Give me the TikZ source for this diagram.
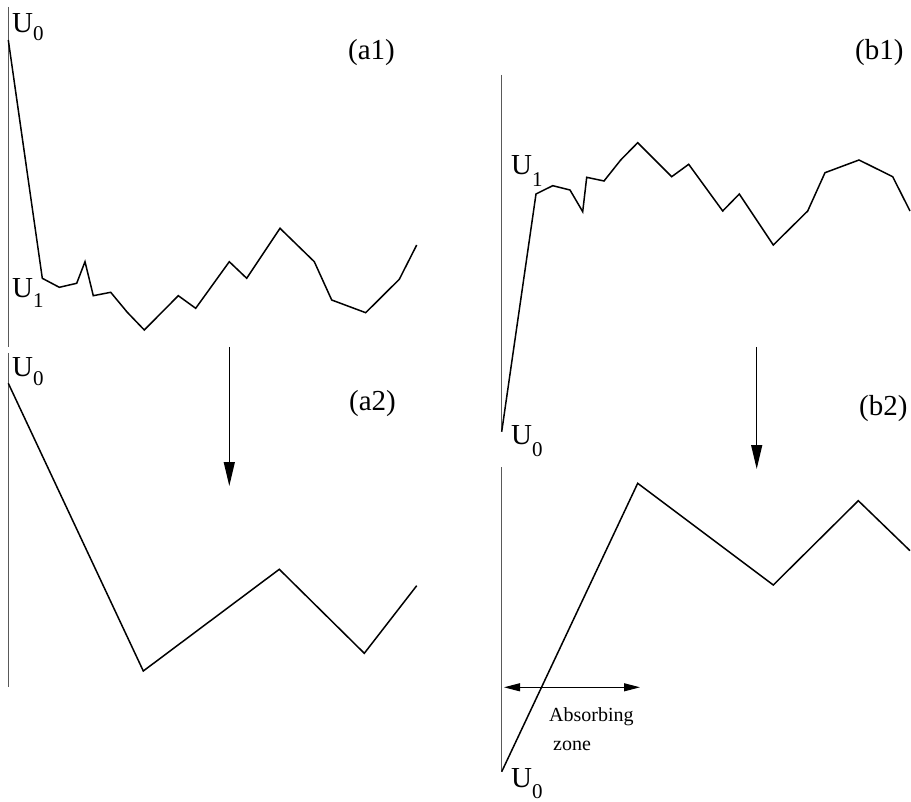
\documentclass[tikz,border=0pt]{standalone}
\usepackage{fontspec}
\setmainfont{Liberation Serif}
\usetikzlibrary{arrows.meta,positioning}
\newcommand{\Ulab}[2]{U\raisebox{-#2pt}{\fontsize{21}{21}\selectfont #1}}

\begin{document}
\begin{tikzpicture}[x=1pt,y=-1pt,line cap=butt,
  axis/.style={black!65,line width=1pt},
  trace/.style={black,line width=1.5pt,line join=miter},
  flow/.style={black,line width=1.3pt,-{Triangle[length=24pt,width=11pt]}},
  zone/.style={black,line width=1pt,{Triangle[length=16pt,width=8pt]}-{Triangle[length=16pt,width=8pt]}},
  lbl/.style={font=\fontsize{29}{33}\selectfont,inner sep=0pt,anchor=base west},
  small/.style={font=\fontsize{20}{24}\selectfont,inner sep=0pt,anchor=base west}]
  \useasboundingbox (0,0) rectangle (911,802);

  % panel a1
  \draw[axis] (8,7)--(8,347);
  \draw[trace] (8.3,40)--(42.3,278.3)--(59.3,287.3)--(76.7,283.3)--(85,261.7)--(93.3,295.7)
    --(110.7,292.3)--(127.3,312.3)--(144.3,330)--(178.3,295.7)--(195.7,308.3)--(229.3,261.7)
    --(246.7,278.3)--(280,228.3)--(314.3,261.7)--(331.7,300)--(365.7,312.7)--(399.3,279.3)--(416.7,245);
  \node[lbl] (a1U0) at (12,33) {\Ulab{0}{8}};
  \node[lbl] (a1U1) at (12,298) {\Ulab{1}{10}};
  \node[lbl] (a1tag) at (348,60) {(a1)};

  % panel a2
  \draw[axis] (8,353)--(8,687);
  \draw[trace] (8.3,383.3)--(143.3,671)--(279.3,569.3)--(364.3,653.3)--(416.7,585.7);
  \node[lbl] (a2U0) at (12,377) {\Ulab{0}{9}};
  \node[lbl] (a2tag) at (349,411) {(a2)};
  \coordinate (aFrom) at (229.3,347);
  \coordinate (aTo) at (229.3,486);
  \draw[flow] (aFrom)--(aTo);

  % panel b1
  \draw[axis] (501.7,75)--(501.7,432);
  \draw[trace] (501.7,431.7)--(536,194)--(552.7,185.7)--(570,190)--(582.7,211.7)--(586.7,177.3)
    --(604,181)--(620.7,160)--(637.7,142.7)--(671.7,176.7)--(688.7,164.3)--(722.7,211)
    --(739.3,194)--(773.3,245)--(807.7,211)--(825,172.7)--(859,160)--(892.7,176.7)--(910,211);
  \node[lbl] (b1U1) at (511,175) {\Ulab{1}{12}};
  \node[lbl] (b1U0) at (511,445) {\Ulab{0}{12}};
  \node[lbl] (b1tag) at (855,60) {(b1)};

  % panel b2
  \draw[axis] (501.7,467)--(501.7,772);
  \draw[trace] (501.7,771.7)--(637.7,483.3)--(773.3,585)--(858.3,500.7)--(910,550.7);
  \node[lbl] (b2U0) at (511,787) {\Ulab{0}{11}};
  \node[lbl] (b2tag) at (859,416) {(b2)};
  \coordinate (bFrom) at (756.7,347);
  \coordinate (bTo) at (756.7,469);
  \draw[flow] (bFrom)--(bTo);
  \coordinate (zoneL) at (504,687.3);
  \coordinate (zoneR) at (640,687.3);
  \draw[zone] (zoneL)--(zoneR);
  \node[small] (absorb) at (549,721) {Absorbing};
  \node[small] (zoneTxt) at (553,750) {zone};
\end{tikzpicture}
\end{document}
